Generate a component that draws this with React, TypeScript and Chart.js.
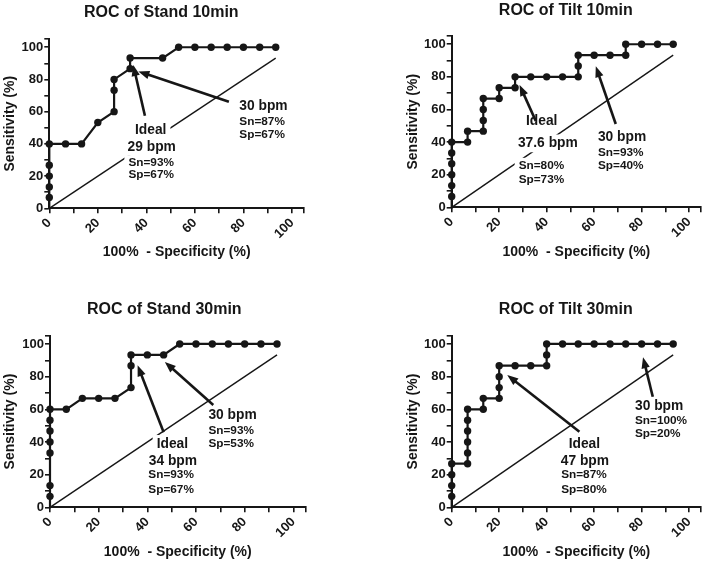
import React, { useEffect, useRef } from 'react';
import { Chart, registerables } from 'chart.js';

Chart.register(...registerables);

// ---------------- data ----------------
const majorTicks = [0, 20, 40, 60, 80, 100];

const stand10X = [0, 0, 0, 0, 0, 0, 6.7, 13.3, 20, 26.7, 26.7, 26.7, 33.3, 33.3, 46.7, 53.3, 60, 66.7, 73.3, 80, 86.7, 93.3];
const stand10Y = [0, 6.7, 13.3, 20, 26.7, 40, 40, 40, 53.3, 60, 73.3, 80, 86.7, 93.3, 93.3, 100, 100, 100, 100, 100, 100, 100];

const tilt10X = [0, 0, 0, 0, 0, 0, 0, 6.7, 6.7, 13.3, 13.3, 13.3, 13.3, 20, 20, 26.7, 26.7, 33.3, 40, 46.7, 53.3, 53.3, 53.3, 60, 66.7, 73.3, 73.3, 80, 86.7, 93.3];
const tilt10Y = [0, 6.7, 13.3, 20, 26.7, 33.3, 40, 40, 46.7, 46.7, 53.3, 60, 66.7, 66.7, 73.3, 73.3, 80, 80, 80, 80, 80, 86.7, 93.3, 93.3, 93.3, 93.3, 100, 100, 100, 100];

const stand30X = [0, 0, 0, 0, 0, 0, 0, 0, 6.7, 13.3, 20, 26.7, 33.3, 33.3, 33.3, 40, 46.7, 53.3, 60, 66.7, 73.3, 80, 86.7, 93.3];
const stand30Y = [0, 6.7, 13.3, 33.3, 40, 46.7, 53.3, 60, 60, 66.7, 66.7, 66.7, 73.3, 86.7, 93.3, 93.3, 93.3, 100, 100, 100, 100, 100, 100, 100];

const tilt30X = [0, 0, 0, 0, 0, 6.7, 6.7, 6.7, 6.7, 6.7, 6.7, 13.3, 13.3, 20, 20, 20, 20, 26.7, 33.3, 40, 40, 40, 46.7, 53.3, 60, 66.7, 73.3, 80, 86.7, 93.3];
const tilt30Y = [0, 6.7, 13.3, 20, 26.7, 26.7, 33.3, 40, 46.7, 53.3, 60, 60, 66.7, 66.7, 73.3, 80, 86.7, 86.7, 86.7, 86.7, 93.3, 100, 100, 100, 100, 100, 100, 100, 100, 100];

const refLineX = [0, 93.3];
const refLineY = [0, 93.3];

const titles = ['ROC of Stand 10min', 'ROC of Tilt 10min', 'ROC of Stand 30min', 'ROC of Tilt 30min'];
const xAxisTitle = '100%  - Specificity (%)';
const yAxisTitle = 'Sensitivity (%)';

// annotation texts (anchored in data coordinates)
type Lbl = { text: string; x: number; y: number; align: 'left' | 'center'; big: boolean };
type Arw = { from: [number, number]; to: [number, number] };

const stand10Labels: Lbl[] = [
  { text: 'Ideal', x: 41.8, y: 48.4, align: 'center', big: true },
  { text: '29 bpm', x: 42.2, y: 38.2, align: 'center', big: true },
  { text: 'Sn=93%', x: 32.6, y: 28, align: 'left', big: false },
  { text: 'Sp=67%', x: 32.6, y: 21.1, align: 'left', big: false },
  { text: '30 bpm', x: 78.3, y: 63.1, align: 'left', big: true },
  { text: 'Sn=87%', x: 78.3, y: 53.6, align: 'left', big: false },
  { text: 'Sp=67%', x: 78.3, y: 45.8, align: 'left', big: false },
];
const stand10Arrows: Arw[] = [
  { from: [39.4, 57.5], to: [34.6, 89] },
  { from: [74.0, 66.2], to: [36.7, 85] },
];

const tilt10Labels: Lbl[] = [
  { text: 'Ideal', x: 37.9, y: 53.1, align: 'center', big: true },
  { text: '37.6 bpm', x: 40.5, y: 39.2, align: 'center', big: true },
  { text: 'Sn=80%', x: 28.2, y: 25.5, align: 'left', big: false },
  { text: 'Sp=73%', x: 28.2, y: 16.7, align: 'left', big: false },
  { text: '30 bpm', x: 61.6, y: 43.3, align: 'left', big: true },
  { text: 'Sn=93%', x: 61.6, y: 33.5, align: 'left', big: false },
  { text: 'Sp=40%', x: 61.6, y: 25.5, align: 'left', big: false },
];
const tilt10Arrows: Arw[] = [
  { from: [35.4, 53], to: [28.6, 75] },
  { from: [69.1, 51.1], to: [60.7, 86.5] },
];

const stand30Labels: Lbl[] = [
  { text: 'Ideal', x: 50.3, y: 38.8, align: 'center', big: true },
  { text: '34 bpm', x: 50.5, y: 28.5, align: 'center', big: true },
  { text: 'Sn=93%', x: 40.4, y: 19.8, align: 'left', big: false },
  { text: 'Sp=67%', x: 40.4, y: 11.0, align: 'left', big: false },
  { text: '30 bpm', x: 65.1, y: 56.5, align: 'left', big: true },
  { text: 'Sn=93%', x: 65.1, y: 46.9, align: 'left', big: false },
  { text: 'Sp=53%', x: 65.1, y: 39.2, align: 'left', big: false },
];
const stand30Arrows: Arw[] = [
  { from: [46.7, 46], to: [36, 87] },
  { from: [67.1, 62.6], to: [47.2, 89] },
];

const tilt30Labels: Lbl[] = [
  { text: 'Ideal', x: 55.9, y: 38.8, align: 'center', big: true },
  { text: '47 bpm', x: 56.1, y: 28.5, align: 'center', big: true },
  { text: 'Sn=87%', x: 46.1, y: 19.8, align: 'left', big: false },
  { text: 'Sp=80%', x: 46.1, y: 11.0, align: 'left', big: false },
  { text: '30 bpm', x: 77.2, y: 62.2, align: 'left', big: true },
  { text: 'Sn=100%', x: 77.2, y: 52.8, align: 'left', big: false },
  { text: 'Sp=20%', x: 77.2, y: 44.9, align: 'left', big: false },
];
const tilt30Arrows: Arw[] = [
  { from: [53.8, 46.3], to: [23.4, 81] },
  { from: [84.7, 67.7], to: [80.6, 91.9] },
];

// ---------------- styling / layout ----------------
const FAMILY = '"Liberation Sans", Arial, Helvetica, sans-serif';
const INK = '#161616';
const BIG = 13.8;
const SMALL = 11.8;

type Geom = { plotL: number; plotR: number; plotT: number; plotB: number; titleX: number; titleY: number; yTitleX: number; xTitleY: number };
type Box = { x: number; y: number; w: number; h: number };

const panels = [
  { title: titles[0], xs: stand10X, ys: stand10Y, labels: stand10Labels, arrows: stand10Arrows,
    box: { x: 0, y: 0, w: 357, h: 281 },
    geom: { plotL: 49.3, plotR: 304.1, plotT: 39.2, plotB: 208.3, titleX: 161.3, titleY: 13, yTitleX: 10, xTitleY: 251.7 } },
  { title: titles[1], xs: tilt10X, ys: tilt10Y, labels: tilt10Labels, arrows: tilt10Arrows,
    box: { x: 357, y: 0, w: 357, h: 281 },
    geom: { plotL: 451.7, plotR: 710, plotT: 36.1, plotB: 207.3, titleX: 565.8, titleY: 10.5, yTitleX: 413.3, xTitleY: 251.7 } },
  { title: titles[2], xs: stand30X, ys: stand30Y, labels: stand30Labels, arrows: stand30Arrows,
    box: { x: 0, y: 281, w: 357, h: 281 },
    geom: { plotL: 50, plotR: 305.5, plotT: 335.8, plotB: 507.3, titleX: 164.3, titleY: 309.2, yTitleX: 10, xTitleY: 551.7 } },
  { title: titles[3], xs: tilt30X, ys: tilt30Y, labels: tilt30Labels, arrows: tilt30Arrows,
    box: { x: 357, y: 281, w: 357, h: 281 },
    geom: { plotL: 451.7, plotR: 710, plotT: 335.8, plotB: 507.3, titleX: 565.8, titleY: 309.2, yTitleX: 413.3, xTitleY: 551.7 } },
];

const annotationPlugin = {
  id: 'rocAnnotations',
  afterDatasetsDraw(chart: any, _args: any, opts: any) {
    const { ctx } = chart;
    const xs = chart.scales.x;
    const ys = chart.scales.y;
    const labels: Lbl[] = opts.labels || [];
    const arrows: Arw[] = opts.arrows || [];
    ctx.save();
    const boxes = labels.map((l) => {
      const size = l.big ? BIG : SMALL;
      ctx.font = `bold ${size}px ${FAMILY}`;
      const w = ctx.measureText(l.text).width;
      const px = xs.getPixelForValue(l.x);
      const py = ys.getPixelForValue(l.y);
      const left = l.align === 'center' ? px - w / 2 : px;
      return { l, size, w, left, py };
    });
    ctx.fillStyle = '#ffffff';
    boxes.forEach((b) => {
      ctx.fillRect(b.left - 4, b.py - b.size / 2 - 2, b.w + 8, b.size + 4);
    });
    ctx.fillStyle = INK;
    ctx.textBaseline = 'middle';
    ctx.textAlign = 'left';
    boxes.forEach((b) => {
      ctx.font = `bold ${b.size}px ${FAMILY}`;
      ctx.fillText(b.l.text, b.left, b.py);
    });
    ctx.strokeStyle = INK;
    ctx.lineWidth = 2.6;
    ctx.lineCap = 'butt';
    arrows.forEach((a) => {
      const x1 = xs.getPixelForValue(a.from[0]);
      const y1 = ys.getPixelForValue(a.from[1]);
      const x2 = xs.getPixelForValue(a.to[0]);
      const y2 = ys.getPixelForValue(a.to[1]);
      const ang = Math.atan2(y2 - y1, x2 - x1);
      const hl = 11;
      const hw = 4.2;
      const bx = x2 - hl * Math.cos(ang);
      const by = y2 - hl * Math.sin(ang);
      ctx.beginPath();
      ctx.moveTo(x1, y1);
      ctx.lineTo(bx + Math.cos(ang), by + Math.sin(ang));
      ctx.stroke();
      ctx.beginPath();
      ctx.moveTo(x2, y2);
      ctx.lineTo(bx + hw * Math.sin(ang), by - hw * Math.cos(ang));
      ctx.lineTo(bx - hw * Math.sin(ang), by + hw * Math.cos(ang));
      ctx.closePath();
      ctx.fill();
    });
    ctx.restore();
  },
};

function buildConfig(p: any): any {
  const g: Geom = p.geom;
  const b: Box = p.box;
  const boxL = 2 * g.titleX - g.plotR;
  const padL = boxL - b.x;
  const padR = b.x + b.w - g.plotR;
  const yWidth = g.plotL - boxL;
  const titleLH = 16 * 1.2;
  const tp = g.titleY - b.y - titleLH / 2;
  const tb = g.plotT - b.y - tp - titleLH;
  const xHeight = b.y + b.h - g.plotB;
  const axLH = 14 * 1.2;
  const xpb = g.plotB + xHeight - axLH / 2 - g.xTitleY;
  const ypt = g.yTitleX - boxL - axLH / 2;

  const tickFont = { family: FAMILY, size: 13, weight: 'bold' as const, lineHeight: 1.2 };
  const axTitleFont = { family: FAMILY, size: 14, weight: 'bold' as const, lineHeight: 1.2 };
  const tickCb = (v: any) => (majorTicks.includes(Number(v)) ? String(v) : '');

  const common = {
    type: 'linear',
    min: 0,
    max: 105,
    bounds: 'data',
    grid: { display: true, drawOnChartArea: false, drawTicks: true, tickLength: 5, color: INK, lineWidth: 1.6 },
    border: { display: true, color: INK, width: 2 },
  };

  return {
    type: 'line',
    data: {
      datasets: [
        {
          data: p.xs.map((x: number, i: number) => ({ x, y: p.ys[i] })),
          borderColor: INK,
          backgroundColor: INK,
          borderWidth: 2.2,
          pointRadius: (c: any) => (c.dataIndex === 0 ? 0 : 3.7),
          pointBackgroundColor: INK,
          pointBorderWidth: 0,
          fill: false,
          tension: 0,
          clip: false,
        },
        {
          data: refLineX.map((x, i) => ({ x, y: refLineY[i] })),
          borderColor: INK,
          borderWidth: 1.4,
          pointRadius: 0,
          fill: false,
          clip: false,
        },
      ],
    },
    options: {
      animation: false,
      responsive: false,
      maintainAspectRatio: false,
      events: [],
      layout: { padding: { left: padL, right: padR, top: 0, bottom: 0 } },
      plugins: {
        legend: { display: false },
        tooltip: { enabled: false },
        title: {
          display: true,
          text: p.title,
          color: INK,
          font: { family: FAMILY, size: 16, weight: 'bold', lineHeight: 1.2 },
          padding: { top: tp, bottom: tb },
        },
        rocAnnotations: { labels: p.labels, arrows: p.arrows },
      },
      scales: {
        x: {
          ...common,
          position: 'bottom',
          ticks: { stepSize: 10, includeBounds: false, autoSkip: false, minRotation: 45, maxRotation: 45, padding: 2, color: INK, font: tickFont, callback: tickCb },
          title: { display: true, text: xAxisTitle, color: INK, font: axTitleFont, padding: { top: 0, bottom: xpb } },
          afterFit: (s: any) => { s.height = xHeight; },
        },
        y: {
          ...common,
          position: 'left',
          ticks: { stepSize: 10, includeBounds: false, autoSkip: false, padding: 1, color: INK, font: tickFont, callback: tickCb },
          title: { display: true, text: yAxisTitle, color: INK, font: axTitleFont, padding: { top: ypt, bottom: 0 } },
          afterFit: (s: any) => { s.width = yWidth; },
        },
      },
    },
    plugins: [annotationPlugin],
  };
}

function RocPanel({ p }: { p: any }) {
  const ref = useRef<HTMLCanvasElement | null>(null);
  useEffect(() => {
    if (!ref.current) return;
    const chart = new Chart(ref.current, buildConfig(p));
    return () => chart.destroy();
  }, [p]);
  const b: Box = p.box;
  return (
    <canvas
      ref={ref}
      width={b.w}
      height={b.h}
      style={{ position: 'absolute', left: b.x, top: b.y, width: b.w, height: b.h }}
    />
  );
}

export default function App() {
  return (
    <div style={{ position: 'absolute', left: 0, top: 0, width: 714, height: 562, background: '#fff', overflow: 'hidden' }}>
      {panels.map((p, i) => (
        <RocPanel key={i} p={p} />
      ))}
    </div>
  );
}
